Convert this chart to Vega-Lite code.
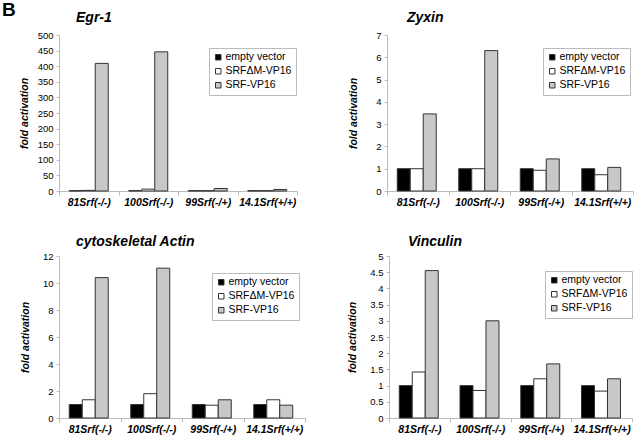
{
  "$schema": "https://vega.github.io/schema/vega-lite/v6.json",
  "padding": {"left": 2, "top": 1, "right": 0, "bottom": 0},
  "title": {"text": "B", "anchor": "start", "frame": "group", "fontSize": 19, "fontWeight": "bold", "fontStyle": "normal", "font": "Liberation Sans", "dx": -57, "offset": -9},
  "datasets": {
    "fold": [
      {"gene": "Egr-1", "line": "81Srf(-/-)", "construct": "empty vector", "value": 1},
      {"gene": "Egr-1", "line": "81Srf(-/-)", "construct": "SRFΔM-VP16", "value": 2},
      {"gene": "Egr-1", "line": "81Srf(-/-)", "construct": "SRF-VP16", "value": 409},
      {"gene": "Egr-1", "line": "100Srf(-/-)", "construct": "empty vector", "value": 1},
      {"gene": "Egr-1", "line": "100Srf(-/-)", "construct": "SRFΔM-VP16", "value": 6},
      {"gene": "Egr-1", "line": "100Srf(-/-)", "construct": "SRF-VP16", "value": 446},
      {"gene": "Egr-1", "line": "99Srf(-/+)", "construct": "empty vector", "value": 1},
      {"gene": "Egr-1", "line": "99Srf(-/+)", "construct": "SRFΔM-VP16", "value": 1},
      {"gene": "Egr-1", "line": "99Srf(-/+)", "construct": "SRF-VP16", "value": 8},
      {"gene": "Egr-1", "line": "14.1Srf(+/+)", "construct": "empty vector", "value": 1},
      {"gene": "Egr-1", "line": "14.1Srf(+/+)", "construct": "SRFΔM-VP16", "value": 1},
      {"gene": "Egr-1", "line": "14.1Srf(+/+)", "construct": "SRF-VP16", "value": 5},
      {"gene": "Zyxin", "line": "81Srf(-/-)", "construct": "empty vector", "value": 1},
      {"gene": "Zyxin", "line": "81Srf(-/-)", "construct": "SRFΔM-VP16", "value": 1},
      {"gene": "Zyxin", "line": "81Srf(-/-)", "construct": "SRF-VP16", "value": 3.46},
      {"gene": "Zyxin", "line": "100Srf(-/-)", "construct": "empty vector", "value": 1},
      {"gene": "Zyxin", "line": "100Srf(-/-)", "construct": "SRFΔM-VP16", "value": 1},
      {"gene": "Zyxin", "line": "100Srf(-/-)", "construct": "SRF-VP16", "value": 6.3},
      {"gene": "Zyxin", "line": "99Srf(-/+)", "construct": "empty vector", "value": 1},
      {"gene": "Zyxin", "line": "99Srf(-/+)", "construct": "SRFΔM-VP16", "value": 0.93},
      {"gene": "Zyxin", "line": "99Srf(-/+)", "construct": "SRF-VP16", "value": 1.44},
      {"gene": "Zyxin", "line": "14.1Srf(+/+)", "construct": "empty vector", "value": 1},
      {"gene": "Zyxin", "line": "14.1Srf(+/+)", "construct": "SRFΔM-VP16", "value": 0.73},
      {"gene": "Zyxin", "line": "14.1Srf(+/+)", "construct": "SRF-VP16", "value": 1.06},
      {"gene": "Actin", "line": "81Srf(-/-)", "construct": "empty vector", "value": 1},
      {"gene": "Actin", "line": "81Srf(-/-)", "construct": "SRFΔM-VP16", "value": 1.35},
      {"gene": "Actin", "line": "81Srf(-/-)", "construct": "SRF-VP16", "value": 10.4},
      {"gene": "Actin", "line": "100Srf(-/-)", "construct": "empty vector", "value": 1},
      {"gene": "Actin", "line": "100Srf(-/-)", "construct": "SRFΔM-VP16", "value": 1.8},
      {"gene": "Actin", "line": "100Srf(-/-)", "construct": "SRF-VP16", "value": 11.1},
      {"gene": "Actin", "line": "99Srf(-/+)", "construct": "empty vector", "value": 1},
      {"gene": "Actin", "line": "99Srf(-/+)", "construct": "SRFΔM-VP16", "value": 0.95},
      {"gene": "Actin", "line": "99Srf(-/+)", "construct": "SRF-VP16", "value": 1.35},
      {"gene": "Actin", "line": "14.1Srf(+/+)", "construct": "empty vector", "value": 1},
      {"gene": "Actin", "line": "14.1Srf(+/+)", "construct": "SRFΔM-VP16", "value": 1.35},
      {"gene": "Actin", "line": "14.1Srf(+/+)", "construct": "SRF-VP16", "value": 0.95},
      {"gene": "Vinculin", "line": "81Srf(-/-)", "construct": "empty vector", "value": 1},
      {"gene": "Vinculin", "line": "81Srf(-/-)", "construct": "SRFΔM-VP16", "value": 1.42},
      {"gene": "Vinculin", "line": "81Srf(-/-)", "construct": "SRF-VP16", "value": 4.55},
      {"gene": "Vinculin", "line": "100Srf(-/-)", "construct": "empty vector", "value": 1},
      {"gene": "Vinculin", "line": "100Srf(-/-)", "construct": "SRFΔM-VP16", "value": 0.85},
      {"gene": "Vinculin", "line": "100Srf(-/-)", "construct": "SRF-VP16", "value": 3.0},
      {"gene": "Vinculin", "line": "99Srf(-/+)", "construct": "empty vector", "value": 1},
      {"gene": "Vinculin", "line": "99Srf(-/+)", "construct": "SRFΔM-VP16", "value": 1.21},
      {"gene": "Vinculin", "line": "99Srf(-/+)", "construct": "SRF-VP16", "value": 1.67},
      {"gene": "Vinculin", "line": "14.1Srf(+/+)", "construct": "empty vector", "value": 1},
      {"gene": "Vinculin", "line": "14.1Srf(+/+)", "construct": "SRFΔM-VP16", "value": 0.83},
      {"gene": "Vinculin", "line": "14.1Srf(+/+)", "construct": "SRF-VP16", "value": 1.21}
    ]
  },
  "vconcat": [
    {
      "hconcat": [
        {
          "width": 238, "height": 156,
          "data": {"name": "fold"},
          "transform": [{"filter": "datum.gene === 'Egr-1'"}],
          "title": {"text": "Egr-1"},
          "mark": {"type": "bar"},
          "encoding": {
            "x": {"field": "line", "type": "nominal", "sort": ["81Srf(-/-)", "100Srf(-/-)", "99Srf(-/+)", "14.1Srf(+/+)"], "scale": {"paddingInner": 0, "paddingOuter": 0}, "axis": {"title": null}},
            "xOffset": {"field": "construct", "type": "nominal", "sort": ["empty vector", "SRFΔM-VP16", "SRF-VP16"], "scale": {"paddingInner": 0, "paddingOuter": 0.79}},
            "y": {"field": "value", "type": "quantitative", "scale": {"domain": [0, 500]}, "axis": {"title": "fold activation", "values": [0, 50, 100, 150, 200, 250, 300, 350, 400, 450, 500], "titleX": -35, "titleBaseline": "middle"}},
            "color": {"field": "construct", "type": "nominal", "scale": {"domain": ["empty vector", "SRFΔM-VP16", "SRF-VP16"], "range": ["#000000", "#ffffff", "#c8c8c8"]}, "legend": {"legendX": 150, "legendY": 13}}
          }
        },
        {
          "width": 246, "height": 156,
          "data": {"name": "fold"},
          "transform": [{"filter": "datum.gene === 'Zyxin'"}],
          "title": {"text": "Zyxin", "dx": 20},
          "mark": {"type": "bar"},
          "encoding": {
            "x": {"field": "line", "type": "nominal", "sort": ["81Srf(-/-)", "100Srf(-/-)", "99Srf(-/+)", "14.1Srf(+/+)"], "scale": {"paddingInner": 0, "paddingOuter": 0}, "axis": {"title": null}},
            "xOffset": {"field": "construct", "type": "nominal", "sort": ["empty vector", "SRFΔM-VP16", "SRF-VP16"], "scale": {"paddingInner": 0, "paddingOuter": 0.79}},
            "y": {"field": "value", "type": "quantitative", "scale": {"domain": [0, 7]}, "axis": {"title": "fold activation", "values": [0, 1, 2, 3, 4, 5, 6, 7], "titleX": -34, "titleBaseline": "middle"}},
            "color": {"field": "construct", "type": "nominal", "scale": {"domain": ["empty vector", "SRFΔM-VP16", "SRF-VP16"], "range": ["#000000", "#ffffff", "#c8c8c8"]}, "legend": {"legendX": 156, "legendY": 13}}
          }
        }
      ],
      "spacing": 90,
      "bounds": "flush",
      "resolve": {"scale": {"color": "independent"}}
    },
    {
      "hconcat": [
        {
          "width": 246, "height": 162,
          "data": {"name": "fold"},
          "transform": [{"filter": "datum.gene === 'Actin'"}],
          "title": {"text": "cytoskeletal Actin", "offset": 2},
          "mark": {"type": "bar"},
          "encoding": {
            "x": {"field": "line", "type": "nominal", "sort": ["81Srf(-/-)", "100Srf(-/-)", "99Srf(-/+)", "14.1Srf(+/+)"], "scale": {"paddingInner": 0, "paddingOuter": 0}, "axis": {"title": null}},
            "xOffset": {"field": "construct", "type": "nominal", "sort": ["empty vector", "SRFΔM-VP16", "SRF-VP16"], "scale": {"paddingInner": 0, "paddingOuter": 0.79}},
            "y": {"field": "value", "type": "quantitative", "scale": {"domain": [0, 12]}, "axis": {"title": "fold activation", "values": [0, 2, 4, 6, 8, 10, 12], "titleX": -34, "titleBaseline": "middle"}},
            "color": {"field": "construct", "type": "nominal", "scale": {"domain": ["empty vector", "SRFΔM-VP16", "SRF-VP16"], "range": ["#000000", "#ffffff", "#c8c8c8"]}, "legend": {"legendX": 153, "legendY": 17}}
          }
        },
        {
          "width": 243, "height": 162,
          "data": {"name": "fold"},
          "transform": [{"filter": "datum.gene === 'Vinculin'"}],
          "title": {"text": "Vinculin", "dx": 19, "offset": 2},
          "mark": {"type": "bar"},
          "encoding": {
            "x": {"field": "line", "type": "nominal", "sort": ["81Srf(-/-)", "100Srf(-/-)", "99Srf(-/+)", "14.1Srf(+/+)"], "scale": {"paddingInner": 0, "paddingOuter": 0}, "axis": {"title": null}},
            "xOffset": {"field": "construct", "type": "nominal", "sort": ["empty vector", "SRFΔM-VP16", "SRF-VP16"], "scale": {"paddingInner": 0, "paddingOuter": 0.79}},
            "y": {"field": "value", "type": "quantitative", "scale": {"domain": [0, 5]}, "axis": {"title": "fold activation", "values": [0, 0.5, 1, 1.5, 2, 2.5, 3, 3.5, 4, 4.5, 5], "format": ".1~f", "titleX": -37, "titleBaseline": "middle"}},
            "color": {"field": "construct", "type": "nominal", "scale": {"domain": ["empty vector", "SRFΔM-VP16", "SRF-VP16"], "range": ["#000000", "#ffffff", "#c8c8c8"]}, "legend": {"legendX": 156, "legendY": 15}}
          }
        }
      ],
      "spacing": 84,
      "bounds": "flush",
      "resolve": {"scale": {"color": "independent"}}
    }
  ],
  "spacing": 27,
  "resolve": {"scale": {"color": "independent"}},
  "config": {
    "font": "Liberation Sans",
    "view": {"stroke": null},
    "bar": {"stroke": "#333333", "strokeWidth": 1},
    "title": {"font": "Liberation Sans", "fontSize": 14, "fontWeight": "bold", "fontStyle": "italic", "anchor": "start", "frame": "group", "dx": 17, "offset": 5, "color": "#000000"},
    "axis": {"labelFont": "Liberation Sans", "labelColor": "#000000", "labelFontSize": 9.5, "domainColor": "#bbbbbb", "tickColor": "#bbbbbb", "grid": false, "titleFont": "Liberation Sans", "titleFontSize": 10.5, "titleFontWeight": "bold", "titleFontStyle": "italic", "titleColor": "#000000"},
    "axisX": {"labelFontSize": 10.5, "labelFontStyle": "italic", "labelFontWeight": "bold", "labelAngle": 0, "tickBand": "extent", "tickSize": 4, "labelPadding": 2},
    "axisY": {"tickSize": 3, "labelPadding": 3},
    "legend": {"title": null, "orient": "none", "strokeColor": "#bbbbbb", "fillColor": "#ffffff", "padding": 4, "symbolType": "square", "symbolSize": 30, "symbolStrokeColor": "#333333", "symbolStrokeWidth": 0.8, "labelFont": "Liberation Sans", "labelFontSize": 10.5, "labelColor": "#000000", "labelOffset": 2, "rowPadding": 3}
  }
}
